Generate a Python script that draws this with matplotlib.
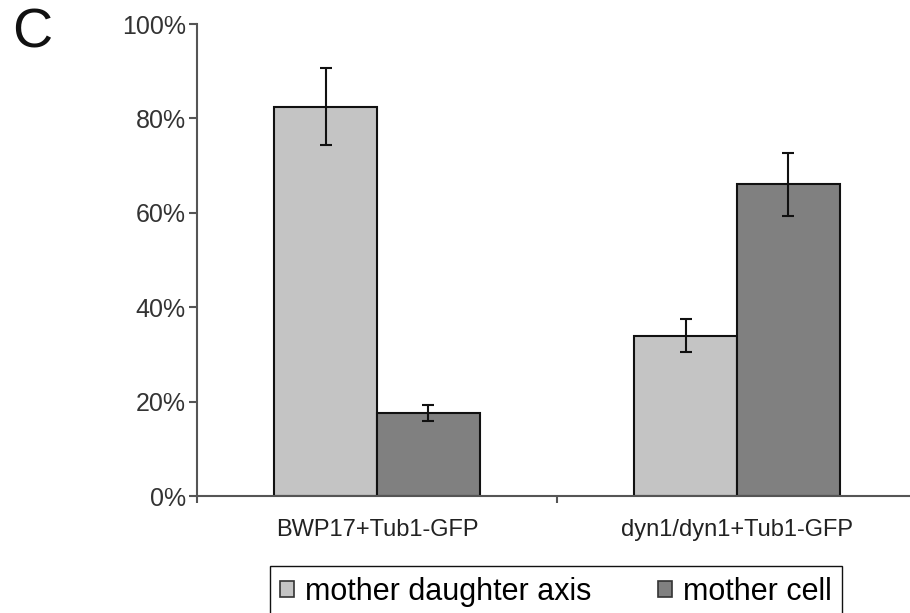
import matplotlib; matplotlib.use("Agg"); import matplotlib.pyplot as plt
import numpy as np
from matplotlib.patches import Patch

plt.rcParams["font.family"] = ["Liberation Sans", "DejaVu Sans"]

# data
groups = ["BWP17+Tub1-GFP", "dyn1/dyn1+Tub1-GFP"]
series = ["mother daughter axis", "mother cell"]
axis_vals = [82.5, 34.0]
axis_err = [8.2, 3.5]
cell_vals = [17.5, 66.0]
cell_err = [1.7, 6.7]
colors = ["#c4c4c4", "#808080"]
yticks = [0, 20, 40, 60, 80, 100]

W, H = 910, 613
fig = plt.figure(figsize=(W/100, H/100), dpi=100)
ax = fig.add_axes([197/W, 1-496/H, (W-197)/W, 472/H])

x = np.arange(len(groups)) + 0.5
bw = 0.286
ekw = dict(ecolor="#111111", elinewidth=1.5, capsize=4, capthick=1.5)
ax.bar(x-bw/2, axis_vals, bw, yerr=axis_err, color=colors[0], edgecolor="#111111", linewidth=1.5, error_kw=ekw, zorder=2)
ax.bar(x+bw/2, cell_vals, bw, yerr=cell_err, color=colors[1], edgecolor="#111111", linewidth=1.5, error_kw=ekw, zorder=2)

ax.set_xlim(0, (W-197)/360)
ax.set_ylim(0, 100)
ax.set_yticks(yticks)
ax.set_yticklabels([f"{t}%" for t in yticks])
ax.set_xticks([0, 1])
ax.set_xticklabels(["", ""])
for xi, g in zip(x, groups):
    ax.text(xi, -4.8, g, ha="center", va="top", fontsize=17, color="#222222")

for s in ["top", "right"]:
    ax.spines[s].set_visible(False)
for s in ["left", "bottom"]:
    ax.spines[s].set_color("#555555"); ax.spines[s].set_linewidth(1.5)
ax.tick_params(axis="y", direction="out", length=6, width=1.5, color="#555555", labelsize=18, labelcolor="#333333", pad=2)
ax.tick_params(axis="x", direction="out", length=5, width=1.5, color="#555555")

fig.text(12/W, 1-33/H, "C", fontsize=40, va="center", ha="left", color="#111111")

handles = [Patch(facecolor=c, edgecolor="#333333", linewidth=1.2) for c in colors]
fig.legend(handles, series, loc="upper center", bbox_to_anchor=(556/W, 1-566/H), ncol=2,
           fontsize=22, frameon=True, fancybox=False, edgecolor="#111111", framealpha=1,
           handlelength=0.45, handleheight=0.45, handletextpad=0.35, columnspacing=2.2,
           borderpad=0.35, borderaxespad=0)

fig.savefig("out.png", dpi=100)
